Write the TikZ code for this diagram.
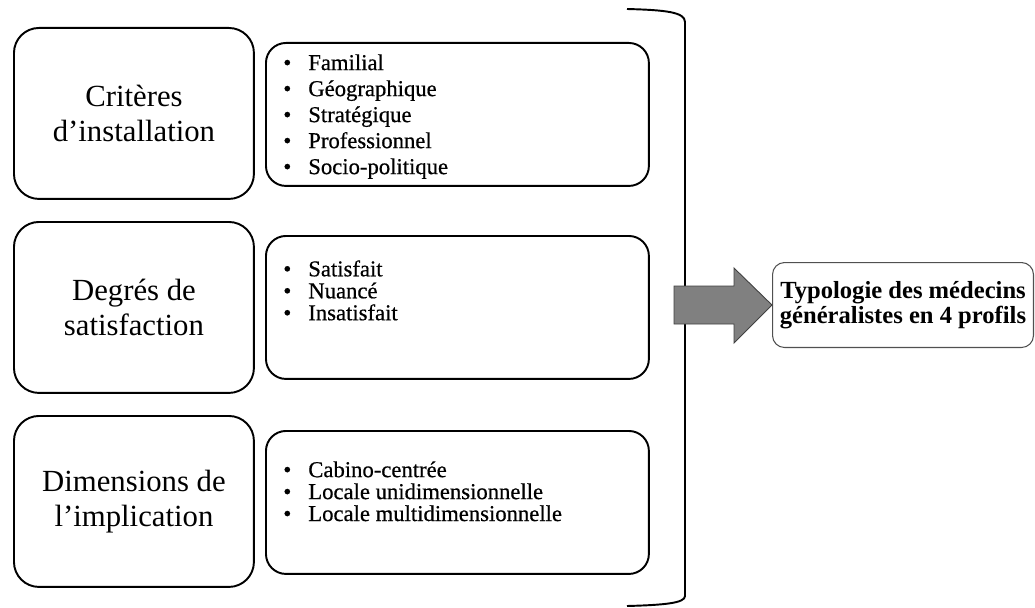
\documentclass[tikz,border=0pt]{standalone}
\usepackage{fontspec}
\setmainfont{Liberation Serif}
\newfontfamily\semibold[FakeBold=0.6]{Liberation Serif}
\usetikzlibrary{calc}

\definecolor{arrowgray}{HTML}{808080}
\definecolor{arrowedge}{HTML}{404040}
\definecolor{resedge}{HTML}{505050}

\tikzset{
    critbox/.style={draw, line width=1.1pt, rounded corners=0.5cm, anchor=north west,
        minimum width=4.8cm, minimum height=3.42cm, align=center,
        font=\fontsize{17.5}{20}\selectfont},
    listbox/.style={draw, line width=1.1pt, rounded corners=0.4cm, anchor=north west,
        minimum width=7.66cm, minimum height=2.86cm},
    listtext/.style={anchor=north west, align=left, inner sep=0pt},
    resbox/.style={draw=resedge, line width=0.6pt, rounded corners=0.24cm, anchor=north west,
        minimum width=5.22cm, minimum height=1.7cm, align=center, inner sep=2pt,
        font=\bfseries\fontsize{14}{14.2}\selectfont},
}
\newcommand{\itm}{\makebox[0.5cm][l]{\textbullet}}

\begin{document}
\begin{tikzpicture}[x=0.02cm, y=-0.02cm]
    \useasboundingbox (0,0) rectangle (1035,608);

    % ===== Left column: the three criteria =====
    \node[critbox] (crit1) at (13,27)  {Critères\\d’installation};
    \node[critbox] (crit2) at (13,221) {Degrés de\\satisfaction};
    \node[critbox] (crit3) at (13,415) {Dimensions de\\l’implication};

    % ===== Middle column: the lists =====
    \node[listbox] (list1) at (265,42)  {};
    \node[listbox] (list2) at (265,235) {};
    \node[listbox] (list3) at (265,430) {};

    \node[listtext, font=\semibold\fontsize{12.9}{14.8}\selectfont] (items1) at (283,54)
        {\itm Familial\\\itm Géographique\\\itm Stratégique\\\itm Professionnel\\\itm Socio-politique};
    \node[listtext, font=\semibold\fontsize{12.9}{12.5}\selectfont] (items2) at (283,260)
        {\itm Satisfait\\\itm Nuancé\\\itm Insatisfait};
    \node[listtext, font=\semibold\fontsize{12.9}{12.5}\selectfont] (items3) at (283,461)
        {\itm Cabino-centrée\\\itm Locale unidimensionnelle\\\itm Locale multidimensionnelle};

    % ===== Bracket and arrow to the result =====
    \draw[line width=1.1pt] (627,9) .. controls (665,10) and (685,12) .. (685,22)
        -- (685,596) .. controls (685,603) and (665,605) .. (627,606);

    \node[resbox] (res) at (772,262) {Typologie des médecins\\généralistes en 4 profils};

    \filldraw[fill=arrowgray, draw=arrowedge, line width=0.5pt]
        ($(res.west)+(-98,-19)$) -- ($(res.west)+(-38,-19)$) -- ($(res.west)+(-38,-37)$)
        -- (res.west)
        -- ($(res.west)+(-38,38)$) -- ($(res.west)+(-38,19)$) -- ($(res.west)+(-98,19)$) -- cycle;
\end{tikzpicture}
\end{document}
